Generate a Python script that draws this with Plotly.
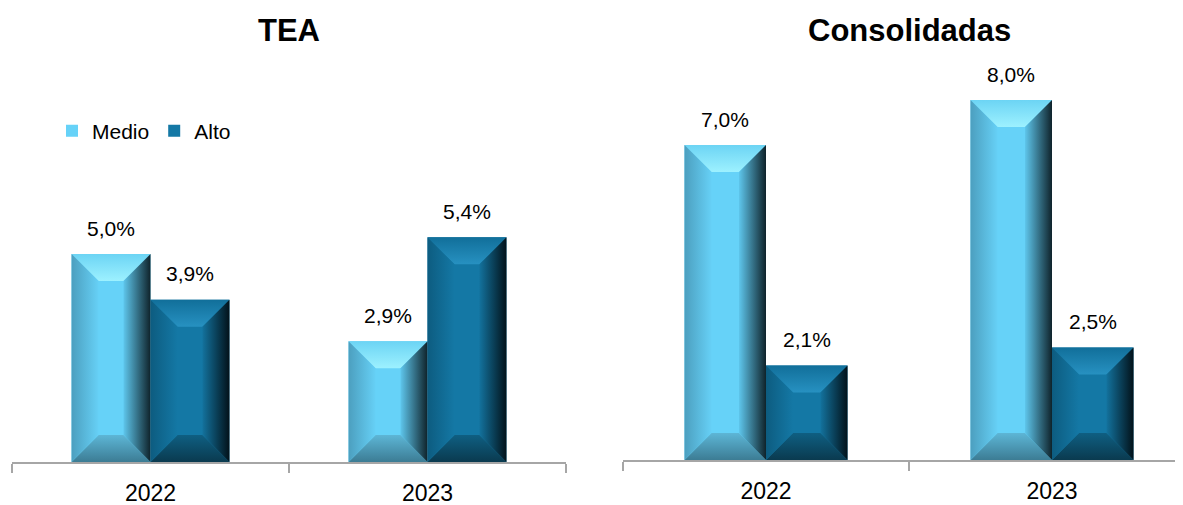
import plotly.graph_objects as go

# data
years = ["2022", "2023"]
series = ["Medio", "Alto"]
panels = ["TEA", "Consolidadas"]
tea_medio = [5.0, 2.9]
tea_alto = [3.9, 5.4]
cons_medio = [7.0, 8.0]
cons_alto = [2.1, 2.5]

# the page puts the plot 8px in from the top-left corner, so work in page
# pixels and shift back by that amount
PAGE_W, PAGE_H = 1183, 505
OFF = 8
W, H = PAGE_W - OFF, PAGE_H - OFF
FONT = "Liberation Sans"
AXIS_GREY = "#A6A6A6"

# colour sets for the bevelled bars: face, top, left, right, bottom (gradients low->high)
STYLES = {
    "Medio": {
        "face": "#66D2F8",
        "top": ["#9DF1FF", "#6CD4F4"],
        "left": ["#4C9FBF", "#66D0F6"],
        "right": ["#5EC6EC", "#0F232B"],
        "bottom": ["#3C7C94", "#5DB6D6"],
    },
    "Alto": {
        "face": "#1478A5",
        "top": ["#2791C1", "#116F9A"],
        "left": ["#0D5C80", "#1478A5"],
        "right": ["#13729D", "#02121A"],
        "bottom": ["#0A3A4F", "#0F5F82"],
    },
}

BAR_W = 0.285  # in category units
BEVEL_PX = 27

# page-pixel geometry of each panel
PANEL_GEOM = [
    dict(x0=12, x1=566, xend=1.5, base=462, ppu=41.6),
    dict(x0=623, x1=PAGE_W, xend=-0.5 + (PAGE_W - 623) / 286.0, base=460, ppu=45.0),
]
TOP_PX = 60


def fx(px):
    return (px - OFF) / W


def fy(px):
    return (H - (px - OFF)) / H


def bevel_traces(xl, xr, yt, dx, dy, style, xa, ya):
    """Build the four bevel faces of one bar as filled polygons."""
    faces = {
        "top": ([xl, xr, xr - dx, xl + dx, xl], [yt, yt, yt - dy, yt - dy, yt], "vertical"),
        "bottom": ([xl, xr, xr - dx, xl + dx, xl], [0, 0, dy, dy, 0], "vertical"),
        "left": ([xl, xl, xl + dx, xl + dx, xl], [0, yt, yt - dy, dy, 0], "horizontal"),
        "right": ([xr, xr, xr - dx, xr - dx, xr], [0, yt, yt - dy, dy, 0], "horizontal"),
    }
    out = []
    for name, (xs, ys, orient) in faces.items():
        c = style[name]
        out.append(go.Scatter(
            x=xs, y=ys, xaxis=xa, yaxis=ya, mode="lines", fill="toself",
            line=dict(width=0, color=c[0]),
            fillgradient=dict(type=orient, colorscale=[[0, c[0]], [1, c[1]]]),
            showlegend=False, hoverinfo="skip",
        ))
    return out


fig = go.Figure()
annotations = []
panel_data = [(tea_medio, tea_alto), (cons_medio, cons_alto)]
title_centers = [289, 909]

for p, (medio, alto) in enumerate(panel_data):
    g = PANEL_GEOM[p]
    xa = "x" if p == 0 else "x2"
    ya = "y" if p == 0 else "y2"
    px_per_x = (g["x1"] - g["x0"]) / (g["xend"] + 0.5)
    dx = BEVEL_PX / px_per_x
    dy = BEVEL_PX / g["ppu"]
    xpos = list(range(len(years)))

    for s, vals in zip(series, (medio, alto)):
        offset = -BAR_W if s == "Medio" else 0.0
        fig.add_trace(go.Bar(
            x=xpos, y=vals, width=BAR_W, offset=offset, name=s,
            marker=dict(color=STYLES[s]["face"], line=dict(width=0)),
            xaxis=xa, yaxis=ya, showlegend=(p == 0), legendgroup=s,
        ))
        for i, v in zip(xpos, vals):
            xl = i + offset
            xr = xl + BAR_W
            for t in bevel_traces(xl, xr, v, dx, dy, STYLES[s], xa, ya):
                fig.add_trace(t)
            annotations.append(dict(
                x=(xl + xr) / 2, y=v, xref=xa, yref=ya,
                text=f"{v:.1f}".replace(".", ",") + "%",
                showarrow=False, yanchor="middle", yshift=26,
                font=dict(family=FONT, size=21, color="#000000"),
            ))

    annotations.append(dict(
        x=fx(title_centers[p]), y=fy(31), xref="paper", yref="paper",
        text=f"<b>{panels[p]}</b>", showarrow=False,
        xanchor="center", yanchor="middle",
        font=dict(family=FONT, size=31, color="#000000"),
    ))

    axis_common = dict(
        domain=[fx(g["x0"]), min(1.0, fx(g["x1"]))],
        range=[-0.5, g["xend"]],
        tickmode="array", tickvals=xpos, ticktext=years,
        ticks="", showgrid=False, zeroline=False,
        showline=True, linecolor=AXIS_GREY, linewidth=2,
        tickfont=dict(family=FONT, size=23, color="#000000"),
        ticklabelstandoff=9,
        minor=dict(tickmode="array", tickvals=[-0.5, 0.5, 1.5], ticks="outside",
                   ticklen=9, tickwidth=2, tickcolor=AXIS_GREY, showgrid=False),
        automargin=False, fixedrange=True,
    )
    yaxis = dict(
        domain=[fy(g["base"]), fy(TOP_PX)],
        range=[0, (g["base"] - TOP_PX) / g["ppu"]],
        visible=False, automargin=False, fixedrange=True,
        anchor=xa,
    )
    if p == 0:
        fig.update_layout(xaxis=dict(axis_common, anchor="y"), yaxis=yaxis)
    else:
        fig.update_layout(xaxis2=dict(axis_common, anchor="y2"), yaxis2=yaxis)

fig.update_layout(
    width=W, height=H,
    template="none",
    paper_bgcolor="white", plot_bgcolor="white",
    margin=dict(l=0, r=0, t=0, b=0),
    barmode="overlay",
    annotations=annotations,
    legend=dict(
        orientation="h", x=fx(52), y=fy(131),
        xanchor="left", yanchor="middle",
        font=dict(family=FONT, size=21, color="#000000"),
        bgcolor="rgba(0,0,0,0)", itemclick=False, itemdoubleclick=False,
        traceorder="normal", itemwidth=30, entrywidthmode="pixels",
    ),
    showlegend=True,
)

fig.write_html("out.html")
